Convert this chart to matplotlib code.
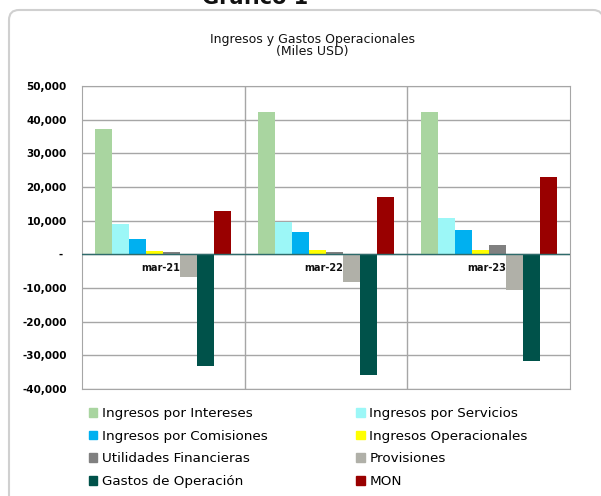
import numpy as np
import matplotlib
matplotlib.use("Agg")
import matplotlib.pyplot as plt
from matplotlib.patches import FancyBboxPatch, Patch
from matplotlib.ticker import FuncFormatter

# Data (Miles USD).
periods = ["mar-21", "mar-22", "mar-23"]
series = [
    "Ingresos por Intereses",
    "Ingresos por Servicios",
    "Ingresos por Comisiones",
    "Ingresos Operacionales",
    "Utilidades Financieras",
    "Provisiones",
    "Gastos de Operación",
    "MON",
]
intereses = [37200, 42200, 42400]
servicios = [8900, 9600, 10900]
comisiones = [4600, 6500, 7100]
operacionales = [1000, 1200, 1300]
utilidades = [700, 700, 2700]
provisiones = [-6800, -8100, -10700]
gastos = [-33100, -35800, -31600]
mon = [12900, 17000, 23000]
values = [intereses, servicios, comisiones, operacionales,
          utilidades, provisiones, gastos, mon]
colors = ["#A9D5A0", "#9CF7F7", "#00B0F0", "#FFFF00",
          "#808080", "#B0B0A8", "#00524A", "#990000"]

fig = plt.figure(figsize=(6.01, 4.96), dpi=100)

# Rounded outer frame (pixel coords), behind everything.
frame = FancyBboxPatch((9, -30), 594, 516, boxstyle="round,pad=0,rounding_size=10",
                       transform=None, facecolor="white", edgecolor="#d0d0d0",
                       lw=1.5, zorder=-5)
fig.add_artist(frame)

fig.text(255 / 601, 1 - 4 / 496, "Gráfico 1", ha="center", va="baseline",
         fontsize=15, fontweight="bold", color="#111111")
fig.text(312 / 601, 1 - 45.5 / 496, "Ingresos y Gastos Operacionales\n(Miles USD)",
         ha="center", va="center", fontsize=9, color="#111111", linespacing=1.0)

ax = fig.add_axes([82 / 601, 1 - 389 / 496, 488 / 601, 303 / 496])
ax.patch.set_alpha(0)
x = np.arange(len(periods))
w = 0.1046
for i, (name, vals) in enumerate(zip(series, values)):
    ax.bar(x + (i - 3.5) * w, vals, w, color=colors[i], label=name, zorder=3)

ax.set_xlim(-0.5, 2.5)
ax.set_ylim(-40000, 50000)
ax.set_yticks(range(-40000, 50001, 10000))
ax.yaxis.set_major_formatter(FuncFormatter(lambda v, p: "- " if v == 0 else f"{int(v):,}"))
ax.grid(axis="y", color="#A6A6A6", lw=1, zorder=0)
for b in [0.5, 1.5]:
    ax.axvline(b, color="#A6A6A6", lw=1, zorder=0)
ax.axhline(0, color="#2E6B6B", lw=1, zorder=4)
ax.set_xticks([])
ax.tick_params(axis="y", length=0, pad=11, labelsize=7.5)
for lab in ax.get_yticklabels():
    lab.set_fontweight("bold")
for s in ax.spines.values():
    s.set_color("#A6A6A6")

# Category labels sit just under the zero line.
for xi, p in zip(x, periods):
    ax.text(xi - 0.015, -4200, p, ha="center", va="center", fontsize=7,
            fontweight="bold", color="#111111", zorder=5)

# Legend, filled row by row like the original (2 columns).
handles = [Patch(color=c, label=n) for c, n in zip(colors, series)]
order = [0, 2, 4, 6, 1, 3, 5, 7]
fig.legend([handles[k] for k in order], [series[k] for k in order], ncol=2,
           loc="upper left", bbox_to_anchor=(89 / 601, 1 - 407 / 496),
           frameon=False, fontsize=9.7, borderpad=0, borderaxespad=0,
           handlelength=0.6, handleheight=0.6, handletextpad=0.35,
           labelspacing=0.72, columnspacing=6.6)

fig.savefig("out.png", dpi=100)
